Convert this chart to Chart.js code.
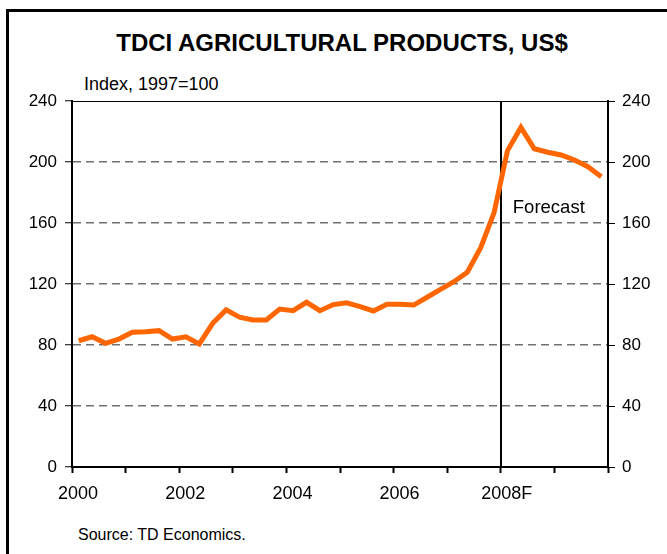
<!DOCTYPE html>
<html>
<head>
<meta charset="utf-8">
<script src="https://cdn.jsdelivr.net/npm/chart.js@4.4.1/dist/chart.umd.min.js"></script>
<style>
  html, body { margin: 0; padding: 0; background: #fff; }
  #wrap { position: relative; width: 667px; height: 554px; overflow: hidden; font-family: 'Liberation Sans', Arial, sans-serif; color: #000; }
  #frame { position: absolute; left: 6px; top: 9px; right: -20px; bottom: -20px; border-left: 3px solid #000; border-top: 3px solid #000; }
  #titulo { position: absolute; left: 0; width: 684px; top: 31px; text-align: center; font-weight: bold; font-size: 24px; line-height: 1; }
  #subtitulo { position: absolute; left: 84px; top: 75px; font-size: 18px; line-height: 1; }
  #fuente { position: absolute; left: 78px; top: 527px; font-size: 16px; line-height: 1; }
  canvas { position: absolute; left: 0; top: 0; }
</style>
</head>
<body>
<div id="wrap">
  <div id="frame"></div>
  <div id="titulo">TDCI AGRICULTURAL PRODUCTS, US$</div>
  <div id="subtitulo">Index, 1997=100</div>
  <div id="fuente">Source: TD Economics.</div>
  <canvas id="grafico" width="667" height="554"></canvas>
</div>
<script>
// Serie trimestral 2000T1 - 2009T4 (desde 2008 es pronóstico)
const anioInicio = 2000;
const valoresIndice = [
  82.8, 85.4, 81.1, 83.9,
  88.3, 88.7, 89.4, 83.9,
  85.4, 80.7, 94.2, 103.0,
  98.2, 96.4, 96.4, 103.6,
  102.5, 108.0, 102.5, 106.5,
  107.7, 105.1, 102.3, 106.7,
  106.7, 106.2, 111.3, 116.5,
  121.5, 127.7, 143.8, 166.8,
  207.5, 222.7, 208.7, 206.4,
  204.6, 201.3, 196.9, 190.4
];
const etiquetasAnio = { 2000: '2000', 2002: '2002', 2004: '2004', 2006: '2006', 2008: '2008F' };
const ticksY = [0, 40, 80, 120, 160, 200, 240];
const inicioPronostico = 2008;
const textoPronostico = 'Forecast';

// puntos a mitad de cada trimestre
const puntos = valoresIndice.map((v, i) => ({ x: anioInicio + (i + 0.5) / 4, y: v }));

Chart.defaults.font.family = "'Liberation Sans', Arial, sans-serif";
Chart.defaults.color = '#000';

const lineasExtra = {
  id: 'lineasExtra',
  beforeDatasetsDraw(chart) {
    const { ctx, chartArea, scales } = chart;
    ctx.save();
    ctx.strokeStyle = '#000';
    // borde superior del área
    ctx.lineWidth = 1;
    ctx.beginPath();
    ctx.moveTo(chartArea.left, chartArea.top + 0.5);
    ctx.lineTo(chartArea.right, chartArea.top + 0.5);
    ctx.stroke();
    // separador del pronóstico
    const xp = Math.round(scales.x.getPixelForValue(inicioPronostico));
    ctx.lineWidth = 2;
    ctx.beginPath();
    ctx.moveTo(xp, chartArea.top);
    ctx.lineTo(xp, chartArea.bottom);
    ctx.stroke();
    ctx.restore();
  },
  afterDraw(chart) {
    const { ctx, scales } = chart;
    ctx.save();
    ctx.font = "18.5px 'Liberation Sans', Arial, sans-serif";
    ctx.fillStyle = '#000';
    ctx.textBaseline = 'middle';
    ctx.fillText(textoPronostico, scales.x.getPixelForValue(inicioPronostico) + 12, scales.y.getPixelForValue(170));
    ctx.restore();
  }
};

const colorGrid = ctx => (ctx.tick && (ctx.tick.value === 0 || ctx.tick.value === 240)) ? 'rgba(0,0,0,0)' : '#707070';

new Chart(document.getElementById('grafico'), {
  type: 'line',
  data: {
    datasets: [{
      data: puntos,
      borderColor: '#ff6600',
      borderWidth: 5,
      pointRadius: 0,
      tension: 0,
      fill: false
    }]
  },
  options: {
    responsive: false,
    animation: false,
    layout: { padding: { top: 101, left: 0, right: 0, bottom: 0 } },
    plugins: { legend: { display: false }, tooltip: { enabled: false } },
    scales: {
      x: {
        type: 'linear',
        min: 2000,
        max: 2010,
        afterFit: s => { s.height = 87; },
        afterBuildTicks: s => { s.ticks = []; for (let a = 2000; a <= 2010; a++) s.ticks.push({ value: a }); },
        ticks: {
          autoSkip: false,
          maxRotation: 0,
          padding: 10,
          labelOffset: 6,
          font: { size: 18 },
          callback: v => etiquetasAnio[v] || ''
        },
        grid: { drawOnChartArea: false, drawTicks: true, tickLength: 6, tickColor: '#000', tickWidth: 2 },
        border: { color: '#000', width: 2 }
      },
      y: {
        position: 'left',
        min: 0,
        max: 240,
        afterFit: s => { s.width = 72; },
        afterBuildTicks: s => { s.ticks = ticksY.map(v => ({ value: v })); },
        ticks: { padding: 8, font: { size: 17 } },
        grid: { color: colorGrid, lineWidth: 1.5, tickLength: 7, tickColor: '#000', tickWidth: 1 },
        border: { color: '#000', width: 2, dash: [8, 5] }
      },
      y2: {
        position: 'right',
        min: 0,
        max: 240,
        afterFit: s => { s.width = 59; },
        afterBuildTicks: s => { s.ticks = ticksY.map(v => ({ value: v })); },
        ticks: { padding: 7, font: { size: 17 } },
        grid: { drawOnChartArea: false, tickLength: 7, tickColor: '#000', tickWidth: 1 },
        border: { color: '#000', width: 2 }
      }
    }
  },
  plugins: [lineasExtra]
});
</script>
</body>
</html>
